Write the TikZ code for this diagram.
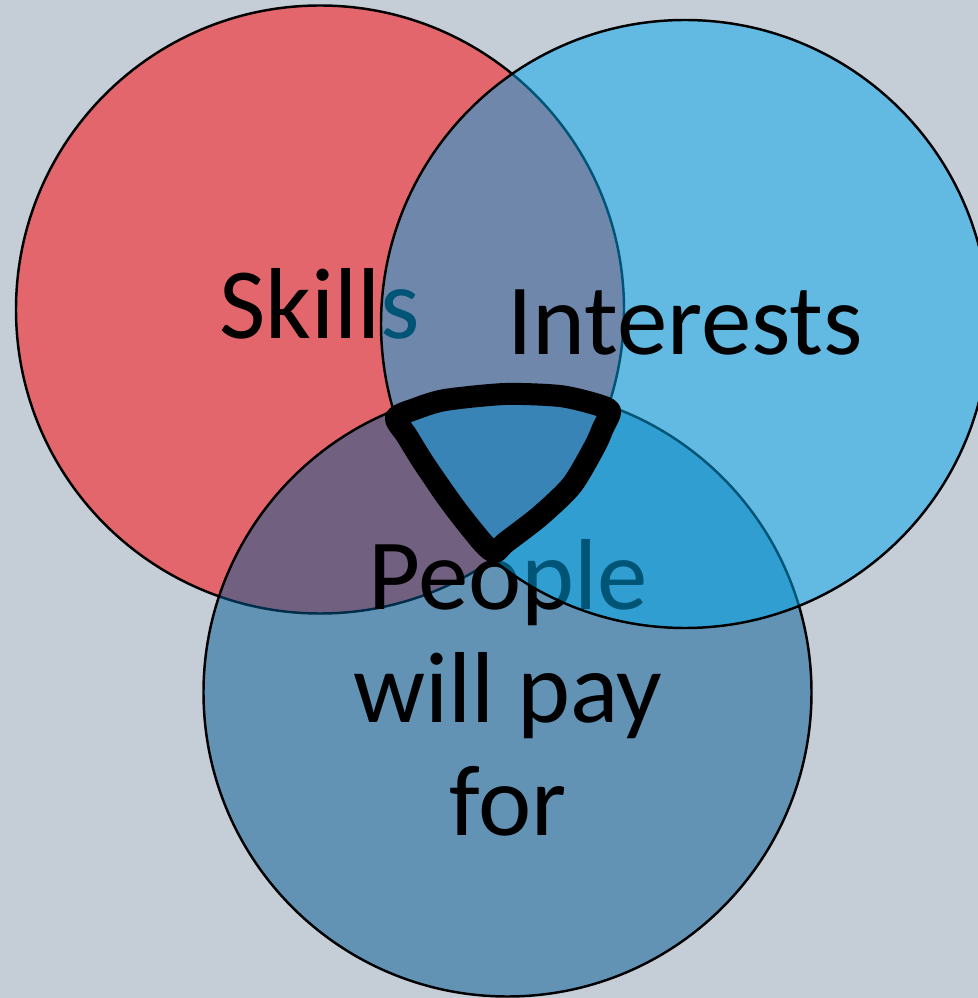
\documentclass[tikz,border=0pt]{standalone}
\usepackage{fontspec}
\setmainfont{Carlito}
\usepackage{tikz}
\usetikzlibrary{arrows}

\definecolor{canvas}{RGB}{197,205,215}
\definecolor{skillred}{RGB}{255,0,0}
\definecolor{interestblue}{RGB}{0,169,237}
\definecolor{payblue}{RGB}{1,91,149}

\begin{document}
\begin{tikzpicture}[scale=1, every node/.style={scale=1},
    venn/.style={draw=black, line width=0.7pt, fill opacity=0.5},
    vennlabel/.style={font=\fontsize{28.7}{32.2}\selectfont, anchor=base, align=center, inner sep=0pt}]
        % background
        \useasboundingbox (0,0) rectangle (9.78,9.98);
        \clip (0,0) rectangle (9.78,9.98);
        \fill[canvas] (0,0) rectangle (9.78,9.98);

        % skills
        \draw[venn, fill=skillred] (3.20,6.885) circle (3.04);
        \node[vennlabel] (skills) at (3.20,6.59) {Skills};

        % people will pay for (base is the last line)
        \draw[venn, fill=payblue] (5.075,3.055) circle (3.04);
        \node[vennlabel] (pay) at (5.08,1.62) {People\\will pay\\for};

        % interests
        \draw[venn, fill=interestblue] (6.85,6.74) circle (3.04);
        \node[vennlabel] (interests) at (6.85,6.43) {Interests};

        % hand drawn loop round the middle
        \draw[line width=0.22cm, line cap=round, line join=round]
            plot[smooth cycle, tension=0.45] coordinates {
                (3.96,5.80) (4.15,5.89) (4.45,5.98) (5.05,6.04) (5.60,6.02)
                (5.95,5.94) (6.10,5.87) (6.03,5.70) (5.95,5.52) (5.72,5.13)
                (5.40,4.82) (5.05,4.55) (4.95,4.46) (4.83,4.55) (4.55,4.90)
                (4.25,5.33) (4.07,5.62)};
\end{tikzpicture}
\end{document}
